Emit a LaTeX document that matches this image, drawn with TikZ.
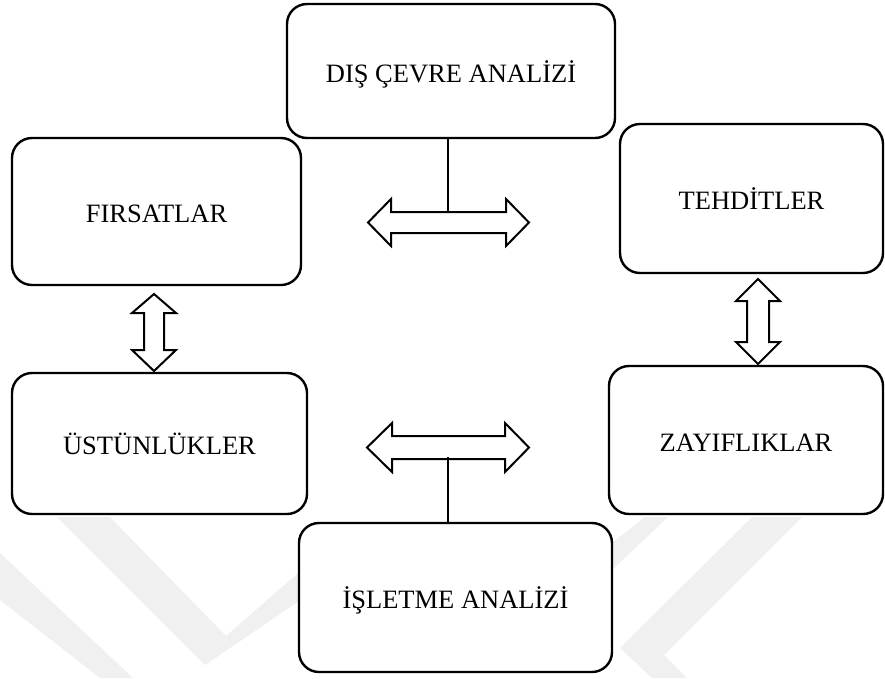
\documentclass[tikz,border=0pt]{standalone}
\usepackage{fontspec}
\setmainfont{Liberation Serif}
\begin{document}
\begin{tikzpicture}[x=1pt,y=-1pt,
  box/.style={draw, line width=2.4pt, rounded corners=20pt, fill=white,
    inner sep=0pt, outer sep=0pt, text height=24pt, text depth=1.5pt,
    font=\fontsize{26.5}{30}\selectfont},
  blockarrow/.style={draw, line width=2pt, fill=white, line join=miter},
  link/.style={draw, line width=1.6pt},
  wmark/.style={fill=black!6, draw=none}]
\useasboundingbox (0,0) rectangle (885,678);

% faint background emblem
\fill[wmark] (57,517) -- (110,517) -- (226,636) -- (330,545) -- (330,580) -- (205,665) -- cycle;
\fill[wmark] (0,553) -- (0,600) -- (100,678) -- (133,678) -- cycle;
\fill[wmark] (752,517) -- (802,517) -- (664,655) -- (687,678) -- (652,678) -- (620,648) -- cycle;
\fill[wmark] (612,543) -- (645,517) -- (668,517) -- (612,570) -- cycle;

% boxes
\node[box, minimum width=328pt, minimum height=134pt] (dis) at (451,71) {DIŞ ÇEVRE ANALİZİ};
\node[box, minimum width=289pt, minimum height=147pt] (firsat) at (156.5,211.5) {FIRSATLAR};
\node[box, minimum width=263pt, minimum height=149pt] (tehdit) at (751.5,198.5) {TEHDİTLER};
\node[box, minimum width=295pt, minimum height=141pt] (ustun) at (159.5,443.5) {ÜSTÜNLÜKLER};
\node[box, minimum width=274pt, minimum height=148pt] (zayif) at (746,440) {ZAYIFLIKLAR};
\node[box, minimum width=313pt, minimum height=149pt] (islet) at (455.5,597.5) {İŞLETME ANALİZİ};

% double block arrows
\draw[blockarrow] (368,222.5) -- (391,199) -- (391,212) -- (506,212) -- (506,199) -- (529,222.5)
  -- (506,246) -- (506,233) -- (391,233) -- (391,246) -- cycle;
\draw[blockarrow] (367,447.5) -- (392,423) -- (392,436) -- (505,436) -- (505,423) -- (529,447.5)
  -- (505,472) -- (505,459) -- (392,459) -- (392,472) -- cycle;
\draw[blockarrow] (154,294) -- (176,313) -- (164,313) -- (164,350) -- (176,350) -- (154,371)
  -- (132,350) -- (144,350) -- (144,313) -- (132,313) -- cycle;
\draw[blockarrow] (758,279) -- (780,301) -- (769,301) -- (769,342) -- (780,342) -- (758,364)
  -- (736,342) -- (747,342) -- (747,301) -- (736,301) -- cycle;

% stems joining the analysis boxes to the arrows
\coordinate (topjoin) at (448,212);
\coordinate (botjoin) at (448,457);
\draw[link] (topjoin |- dis.south) -- (topjoin);
\draw[link] (botjoin) -- (botjoin |- islet.north);
\end{tikzpicture}
\end{document}
